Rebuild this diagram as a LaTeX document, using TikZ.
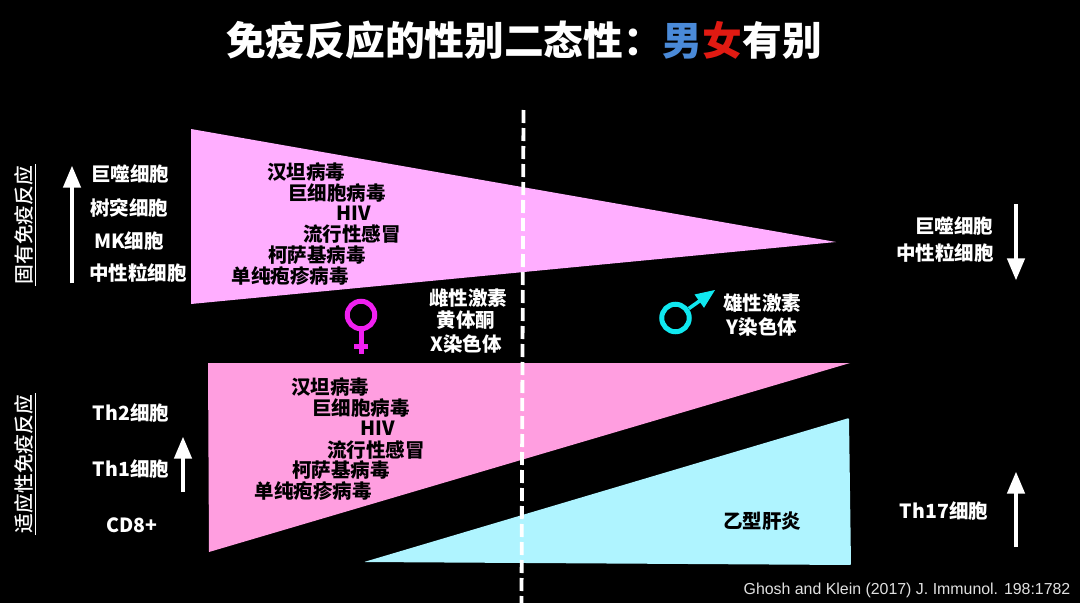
\documentclass[tikz,border=0pt]{standalone}
\usepackage{fontspec}
\usepackage{tikz}
\usetikzlibrary{arrows}
\setmainfont{Noto Sans CJK SC}
\newfontfamily\sidefont{Noto Sans CJK SC Medium}
\newfontfamily\latinfont{Liberation Sans}
\definecolor{femalepink}{HTML}{FFAEFF}
\definecolor{adaptpink}{HTML}{FF9EE0}
\definecolor{malecyan}{HTML}{AFF4FF}
\definecolor{femalesign}{HTML}{F020F0}
\definecolor{malesign}{HTML}{10E8F0}
\definecolor{malered}{HTML}{E01A12}
\definecolor{maleblue}{HTML}{4A8AD8}
\tikzset{
	celllab/.style={text=white,inner sep=0pt,yshift=-0.7pt,font=\fontsize{19.5}{20}\selectfont\bfseries},
	viruslab/.style={text=black,inner sep=0pt,yshift=-0.7pt,font=\fontsize{19.5}{20}\selectfont\bfseries},
	sidelab/.style={text=white,inner sep=1.5pt,rotate=90,font=\sidefont\fontsize{19.8}{20}\selectfont},
	updown/.style={-triangle 45,white,line width=4.2pt},
	signring/.style={circle,line width=5pt,minimum size=27.5pt,inner sep=0pt},
}
\begin{document}
\begin{tikzpicture}[x=1pt,y=-1pt]
			\fill[black] (0,0) rectangle (1080,603);
			% wedges
			\fill[femalepink] (191,129) -- (836,242) -- (191,304) -- cycle;
			\fill[adaptpink] (208,363) -- (850,363) -- (209,552) -- cycle;
			\fill[malecyan, rounded corners=1pt] (364,562) -- (849,418) -- (851,565) -- cycle;
			% divider
			\coordinate (divtop) at (523.5,110);
			\coordinate (divbot) at (521.5,603);
			\draw[white, line width=3.8pt, dash pattern=on 13pt off 5pt] (divtop) -- (divbot);
			% title
			\node[text=white,inner sep=0pt,font=\fontsize{39.7}{42}\selectfont\bfseries] (headline) at (524,40) {免疫反应的性别二态性：\textcolor{maleblue}{男}\textcolor{malered}{女}有别};
			% side labels
			\node[sidelab] (innate) at (24,225) {固有免疫反应};
			\node[sidelab] (adaptive) at (24,464) {适应性免疫反应};
			\draw[white, thin] (innate.south west) -- (innate.south east);
			\draw[white, thin] (adaptive.south west) -- (adaptive.south east);
			% innate cells
			\node[celllab] (mac) at (130,173) {巨噬细胞};
			\node[celllab] (dc) at (129,207) {树突细胞};
			\node[celllab] (nk) at (129,240) {MK细胞};
			\node[celllab] (neu) at (138,272) {中性粒细胞};
			\node[celllab] (macm) at (954,225) {巨噬细胞};
			\node[celllab] (neum) at (945,252) {中性粒细胞};
			% adaptive cells
			\node[celllab] (thtwo) at (131,412) {Th2细胞};
			\node[celllab] (thone) at (131,468) {Th1细胞};
			\node[celllab] (cdeight) at (132,525) {CD8+};
			\node[celllab] (thseventeen) at (944,510) {Th17细胞};
			% viruses, upper wedge
			\node[viruslab] (hanta) at (306,171) {汉坦病毒};
			\node[viruslab] (cmv) at (337,192) {巨细胞病毒};
			\node[viruslab] (hiv) at (354,213) {HIV};
			\node[viruslab] (flu) at (352,233) {流行性感冒};
			\node[viruslab] (coxs) at (317,254) {柯萨基病毒};
			\node[viruslab] (hsv) at (290,275) {单纯疱疹病毒};
			% viruses, lower wedge
			\node[viruslab] (hantab) at (330,386) {汉坦病毒};
			\node[viruslab] (cmvb) at (361,407) {巨细胞病毒};
			\node[viruslab] (hivb) at (378,428) {HIV};
			\node[viruslab] (flub) at (376,449) {流行性感冒};
			\node[viruslab] (coxsb) at (341,469) {柯萨基病毒};
			\node[viruslab] (hsvb) at (313,490) {单纯疱疹病毒};
			\node[viruslab] (hbv) at (762,520) {乙型肝炎};
			% hormones
			\node[celllab] (estro) at (468,297) {雌性激素};
			\node[celllab] (proge) at (466,319) {黄体酮};
			\node[celllab] (xchr) at (466,343) {X染色体};
			\node[celllab] (andro) at (762,302) {雄性激素};
			\node[celllab] (ychr) at (762,326) {Y染色体};
			% sex signs
			\node[signring,draw=femalesign] (venus) at (361,315) {};
			\coordinate (venusfoot) at (361,354);
			\coordinate (barleft) at (354,346);
			\coordinate (barright) at (368,346);
			\draw[femalesign,line width=5pt] (venus) -- (venusfoot);
			\draw[femalesign,line width=5pt] (barleft) -- (barright);
			\node[signring,draw=malesign] (mars) at (675.5,318) {};
			\coordinate (marstip) at (715,290);
			\draw[-triangle 45,malesign,line width=3.6pt] (mars) -- (marstip);
			% level arrows
			\coordinate (innatefrom) at (72,283);
			\coordinate (innateto) at (72,166);
			\coordinate (adaptfrom) at (183,492);
			\coordinate (adaptto) at (183,437);
			\coordinate (macfrom) at (1016,204);
			\coordinate (macto) at (1016,280);
			\coordinate (thfrom) at (1016,547);
			\coordinate (thto) at (1016,472);
			\path[updown]
			(innatefrom) edge (innateto)
			(adaptfrom) edge (adaptto)
			(macfrom) edge (macto)
			(thfrom) edge (thto);
			% source
			\node[text=white!88!black,inner sep=0pt,font=\latinfont\fontsize{15.9}{17}\selectfont] (source) at (907,590) {Ghosh and Klein (2017) J. Immunol. 198:1782};
\end{tikzpicture}
\end{document}
